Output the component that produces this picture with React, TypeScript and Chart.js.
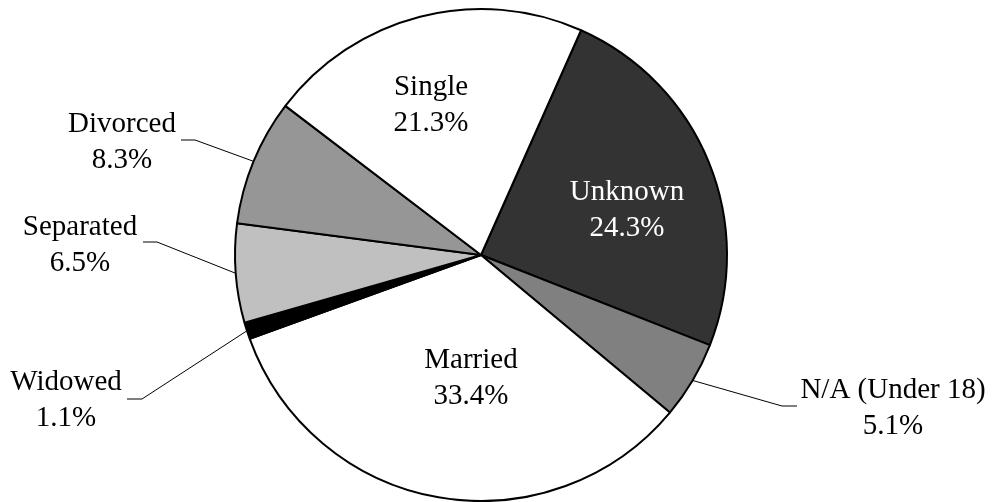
import React, { useEffect, useRef } from "react";
import { Chart, registerables } from "chart.js";

Chart.register(...registerables);

const categories = ["Unknown", "N/A (Under 18)", "Married", "Widowed", "Separated", "Divorced", "Single"];
const values = [24.3, 5.1, 33.4, 1.1, 6.5, 8.3, 21.3];
const valueLabels = ["24.3%", "5.1%", "33.4%", "1.1%", "6.5%", "8.3%", "21.3%"];
const colors = ["#333333", "#808080", "#ffffff", "#000000", "#c0c0c0", "#969696", "#ffffff"];

// label layout: offsets from pie center (dx,dy of text center-x / first baseline), optional leader elbow
type LabelLayout = { dx: number; dy: number; color: string; elbow?: [number, number, number] };
const labelLayout: LabelLayout[] = [
  { dx: 146, dy: -55, color: "#ffffff" },
  { dx: 412, dy: 143, color: "#000000", elbow: [301, 316, 151] },
  { dx: -10, dy: 113, color: "#000000" },
  { dx: -415, dy: 135, color: "#000000", elbow: [-339, -354, 144] },
  { dx: -401, dy: -20, color: "#000000", elbow: [-324, -338, -13] },
  { dx: -359, dy: -123, color: "#000000", elbow: [-286, -300, -115] },
  { dx: -50, dy: -160, color: "#000000" },
];

const FONT = "29px 'Liberation Serif', 'Times New Roman', serif";
const LINE = 36;

const labelPlugin = {
  id: "pieLabels",
  afterDatasetsDraw(chart: any) {
    const ctx = chart.ctx;
    const meta = chart.getDatasetMeta(0);
    ctx.save();
    ctx.font = FONT;
    ctx.textAlign = "center";
    ctx.textBaseline = "alphabetic";
    meta.data.forEach((arc: any, i: number) => {
      const { x, y, startAngle, endAngle, outerRadius } = arc.getProps(["x", "y", "startAngle", "endAngle", "outerRadius"], true);
      const L = labelLayout[i];
      const tx = x + L.dx;
      const ty = y + L.dy;
      if (L.elbow) {
        const mid = (startAngle + endAngle) / 2;
        const ax = x + Math.cos(mid) * outerRadius;
        const ay = y + Math.sin(mid) * outerRadius;
        const [ex1, ex2, ey] = L.elbow;
        ctx.beginPath();
        ctx.strokeStyle = "#000000";
        ctx.lineWidth = 1;
        ctx.moveTo(ax, ay);
        ctx.lineTo(x + ex1, y + ey);
        ctx.lineTo(x + ex2, y + ey);
        ctx.stroke();
      }
      ctx.fillStyle = L.color;
      ctx.fillText(categories[i], tx, ty);
      ctx.fillText(valueLabels[i], tx, ty + LINE);
    });
    ctx.restore();
  },
};

export default function App() {
  const ref = useRef<HTMLCanvasElement | null>(null);
  useEffect(() => {
    if (!ref.current) return;
    const chart = new Chart(ref.current, {
      type: "pie",
      data: {
        labels: categories,
        datasets: [
          {
            data: values,
            backgroundColor: colors,
            borderColor: "#000000",
            borderWidth: 2,
            hoverOffset: 0,
          },
        ],
      },
      options: {
        responsive: false,
        animation: false,
        rotation: 24,
        radius: 246,
        layout: { padding: { left: 0, right: 30, top: 8, bottom: 0 } },
        plugins: {
          legend: { display: false },
          tooltip: { enabled: false },
        },
        events: [],
      } as any,
      plugins: [labelPlugin],
    });
    return () => chart.destroy();
  }, []);
  return (
    <div style={{ position: "fixed", left: 0, top: 0, width: 992, height: 502, background: "#ffffff" }}>
      <canvas ref={ref} width={992} height={502} style={{ width: 992, height: 502 }} />
    </div>
  );
}
